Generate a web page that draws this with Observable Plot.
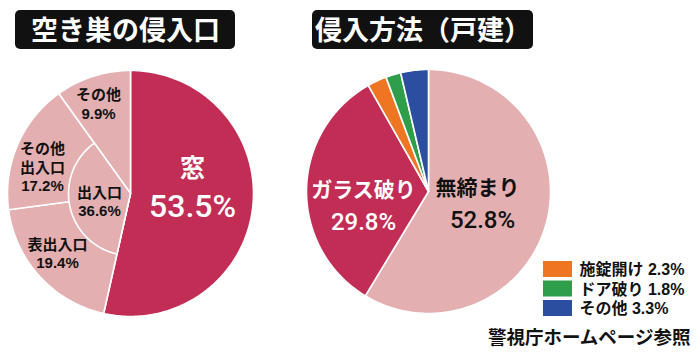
<!DOCTYPE html>
<html><head><meta charset="utf-8">
<script src="https://cdn.jsdelivr.net/npm/d3@7"></script>
<script src="https://cdn.jsdelivr.net/npm/@observablehq/plot@0.6"></script>
<style>body{margin:0;background:#fff;} #chart svg{display:block;}</style>
</head><body><div id="chart"></div>
<script>
// ---- data ----
const titles = ["空き巣の侵入口", "侵入方法（戸建）"];
const leftCategories = ["窓", "表出入口", "その他出入口", "その他"];
const leftValues = [53.5, 19.4, 17.2, 9.9];
const innerCategory = "出入口";
const innerValue = 36.6;
const rightCategories = ["無締まり", "ガラス破り", "施錠開け", "ドア破り", "その他"];
const rightValues = [52.8, 29.8, 2.3, 1.8, 3.3];
const sourceText = "警視庁ホームページ参照";

// ---- styles / layout ----
const CRIMSON = "#c22d56", PINK = "#e4afb0", ORANGE = "#ee7623", GREEN = "#2f9e4b", BLUE = "#2b4ea0";
const leftColors = [CRIMSON, PINK, PINK, PINK];
const rightColors = [PINK, CRIMSON, ORANGE, GREEN, BLUE];
const L = {cx: 130, cy: 193, r: 123, ri: 62};
const R = {cx: 428, cy: 191, r: 122};
const FONT = "'Liberation Sans', 'Noto Sans CJK JP', sans-serif";
const NUMFONT = "Roboto, 'Liberation Sans', sans-serif";

const pie = d3.pie().sort(null).value(d => d);
function polygon(id, color, cx, cy, r, a0, a1) {
  const pts = [{id, color, x: cx, y: cy}];
  const n = Math.max(2, Math.ceil((a1 - a0) / (Math.PI / 180)));
  for (let i = 0; i <= n; i++) {
    const a = a0 + (a1 - a0) * i / n;
    pts.push({id, color, x: cx + r * Math.sin(a), y: cy - r * Math.cos(a)});
  }
  pts.push({id, color, x: cx, y: cy});
  return pts;
}
const leftArcs = pie(leftValues);
const rightArcs = pie(rightValues);
const polys = [];
leftArcs.forEach((a, i) => polys.push(...polygon("L" + i, leftColors[i], L.cx, L.cy, L.r, a.startAngle, a.endAngle)));
rightArcs.forEach((a, i) => polys.push(...polygon("R" + i, rightColors[i], R.cx, R.cy, R.r, a.startAngle, a.endAngle)));
// inner sector spans 表出入口 + その他出入口
const innerPoly = polygon("I", PINK, L.cx, L.cy, L.ri, leftArcs[1].startAngle, leftArcs[2].endAngle);

const fmt = v => v.toFixed(1) + "%";

// label placement (layout)
const labels = [
  {lines: [leftCategories[0]], value: leftValues[0], x: 192, y: 168, dy: 38, fs: 25, vfs: 32, fill: "white", big: true},
  {lines: [leftCategories[3]], value: leftValues[3], x: 98, y: 95, dy: 19, fs: 15, vfs: 15, fill: "#111"},
  {lines: ["その他", "出入口"], value: leftValues[2], x: 42, y: 149, dy: 18.5, fs: 15, vfs: 15, fill: "#111"},
  {lines: [innerCategory], value: innerValue, x: 99, y: 193, dy: 18, fs: 15, vfs: 15, fill: "#111"},
  {lines: [leftCategories[1]], value: leftValues[1], x: 57, y: 245, dy: 17.5, fs: 15, vfs: 15, fill: "#111"},
  {lines: [rightCategories[1]], value: rightValues[1], x: 363, y: 190, dy: 32, fs: 21, vfs: 24, fill: "white", big: true},
  {lines: [rightCategories[0]], value: rightValues[0], x: 477, y: 188, dy: 32, fs: 21, vfs: 24, fill: "#111", vx: 482, big: true}
];
const textRows = [];
labels.forEach(l => {
  l.lines.forEach((t, k) => textRows.push({t, x: l.x, y: l.y + k * l.dy, fs: l.fs, fill: l.fill, fam: FONT, fw: "bold"}));
  textRows.push({t: fmt(l.value), x: l.vx ?? l.x, y: l.y + l.lines.length * l.dy, fs: l.vfs, fill: l.fill,
    fam: l.big ? NUMFONT : FONT, fw: l.big ? 500 : "bold"});
});

const titleBoxes = [
  {t: titles[0], x1: 15, x2: 235, y1: 10, y2: 49},
  {t: titles[1], x1: 312, x2: 533, y1: 10, y2: 49}
];
const legendItems = [2, 3, 4].map((i, k) => ({
  t: rightCategories[i] + " " + fmt(rightValues[i]), color: rightColors[i],
  x1: 543, x2: 572, y1: 261 + k * 19.5, y2: 277 + k * 19.5, tx: 579, ty: 269.5 + k * 19.5
}));

const textMark = (data, opts) => Plot.text(data, opts);
const chart = Plot.plot({
  width: 700, height: 356, margin: 0,
  x: {domain: [0, 700], range: [0, 700], axis: null},
  y: {domain: [0, 356], range: [0, 356], axis: null},
  color: {type: "identity"},
  style: {background: "white", fontFamily: FONT},
  marks: [
    Plot.line(polys, {x: "x", y: "y", z: "id", fill: "color", stroke: "white", strokeWidth: 1.6, strokeLinejoin: "round"}),
    Plot.line(innerPoly, {x: "x", y: "y", z: "id", fill: "color", stroke: "white", strokeWidth: 1.6, strokeLinejoin: "round"}),
    ...textRows.map(r => textMark([r], {x: "x", y: "y", text: "t", fill: "fill", fontSize: r.fs, fontWeight: r.fw, fontFamily: r.fam, textAnchor: "middle"})),
    Plot.rect(titleBoxes, {x1: "x1", x2: "x2", y1: "y1", y2: "y2", fill: "#111", rx: 5}),
    Plot.text(titleBoxes, {x: d => (d.x1 + d.x2) / 2, y: d => (d.y1 + d.y2) / 2 + 1, text: "t", fill: "white", fontSize: 27, fontWeight: "bold", fontFamily: FONT}),
    Plot.rect(legendItems, {x1: "x1", x2: "x2", y1: "y1", y2: "y2", fill: "color"}),
    Plot.text(legendItems, {x: "tx", y: "ty", text: "t", textAnchor: "start", fill: "#111", fontSize: 16, fontWeight: "bold", fontFamily: FONT}),
    Plot.text([sourceText], {x: 690, y: 338, text: d => d, textAnchor: "end", fill: "#111", fontSize: 18.5, fontWeight: "bold", fontFamily: FONT})
  ]
});
document.getElementById("chart").appendChild(chart);
</script>
</body></html>
